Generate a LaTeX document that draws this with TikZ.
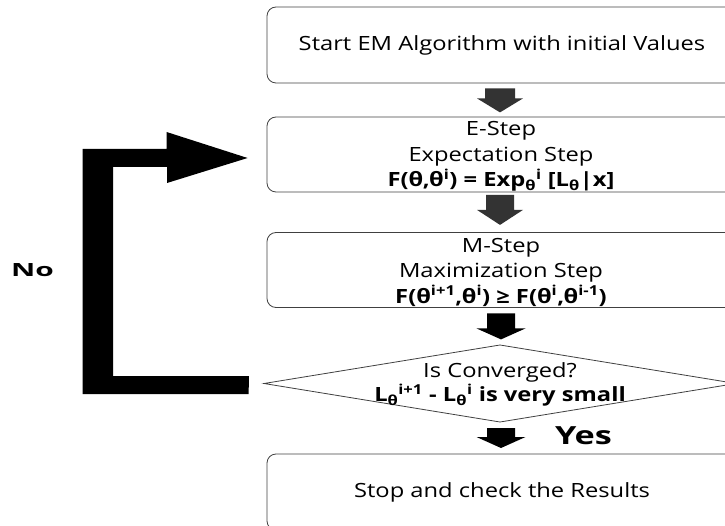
\documentclass[tikz,border=0pt]{standalone}
\usepackage{fontspec}
\setmainfont{Open Sans}[FakeStretch=1.21]
\newfontfamily\nofont{Open Sans}[FakeStretch=1.64]
\newfontfamily\yesfont{Open Sans}[FakeStretch=1.37]
\usetikzlibrary{shapes.geometric,calc}

\tikzset{
  stepbox/.style={draw=black!75, line width=0.8pt, rounded corners=9pt,
    minimum width=470pt, minimum height=76pt, inner sep=0pt, align=center,
    font=\fontsize{19.6}{26}\selectfont},
  decbox/.style={draw=black!75, line width=0.8pt, diamond, inner sep=0pt,
    outer sep=0pt, minimum width=472pt, minimum height=77pt},
  txt/.style={align=center, inner sep=0pt, font=\fontsize{19.6}{25.5}\selectfont},
  pics/downblk/.style args={#1/#2/#3/#4/#5}{code={
    % #1 head base, #2 tip, #3 shaft half width, #4 head half width, #5 colour
    \fill[#5] (-#3,0) -- (#3,0) -- (#3,#1) -- (#4,#1) -- (0,#2)
      -- (-#4,#1) -- (-#3,#1) -- cycle;}}
}

\begin{document}
\begin{tikzpicture}[x=1pt,y=-1pt]
  \path[use as bounding box, clip] (0,0) rectangle (725,526);

  % process steps
  \node[stepbox] (start) at (502,45) {Start EM Algorithm with initial Values};

  \node[stepbox, minimum height=75pt] (estep) at (502,154.5) {};
  \node[txt] (estepText) at ($(estep.center)+(-1,2)$)
    {E-Step\\Expectation Step\\
     \textbf{F(θ,θ\textsuperscript{i}) = Exp\textsubscript{θ}\textsuperscript{i} [L\textsubscript{θ}|x]}};

  \node[stepbox, minimum height=75pt] (mstep) at (502,270) {};
  \node[txt] (mstepText) at ($(mstep.center)+(-1,2)$)
    {M-Step\\Maximization Step\\
     \textbf{F(θ\textsuperscript{i+1},θ\textsuperscript{i}) ≥ F(θ\textsuperscript{i},θ\textsuperscript{i-1})}};

  % convergence test
  \node[decbox] (dec) at (500,383.5) {};
  \node[txt, font=\fontsize{19.6}{24}\selectfont] (decText) at ($(dec.center)+(0,1)$)
    {Is Converged?\\
    \textbf{L\textsubscript{θ}\textsuperscript{i+1} - L\textsubscript{θ}\textsuperscript{i} is very small}};

  \node[stepbox] (stop) at (502,492) {Stop and check the Results};

  % block arrows between the steps
  \pic at ($(start.south)+(-2,5)$) {downblk={10/24/15/23/black!80}};
  \pic at ($(estep.south)+(-2,2.5)$) {downblk={15/30/14/23/black!80}};
  \pic at ($(mstep.south)+(-1,5.5)$) {downblk={15/26/14/24.5/black}};
  \pic (yesarrow) at ($(dec.south)+(1,6)$) {downblk={9/20/14/24.5/black}};

  % loop back when not converged
  \coordinate (noTail) at ($(dec.west)+(-15,0)$);
  \coordinate (noTip) at ($(estep.west)+(-19,3.5)$);
  \fill[black] (noTail) ++(0,-7.5) -- ++(-136,0) -- ++(0,-209) -- ++(54,0)
    -- ++(0,16) -- (noTip) -- ++(-81,-26) -- ++(0,17) -- ++(-84,0)
    -- ++(0,245) -- ++(166,0) -- cycle;

  \node[font=\nofont\bfseries\fontsize{18.2}{20}\selectfont] (no) at (32.5,270) {No};
  \node[font=\yesfont\bfseries\fontsize{25}{28}\selectfont] (yes) at (583.5,436) {Yes};
\end{tikzpicture}
\end{document}
